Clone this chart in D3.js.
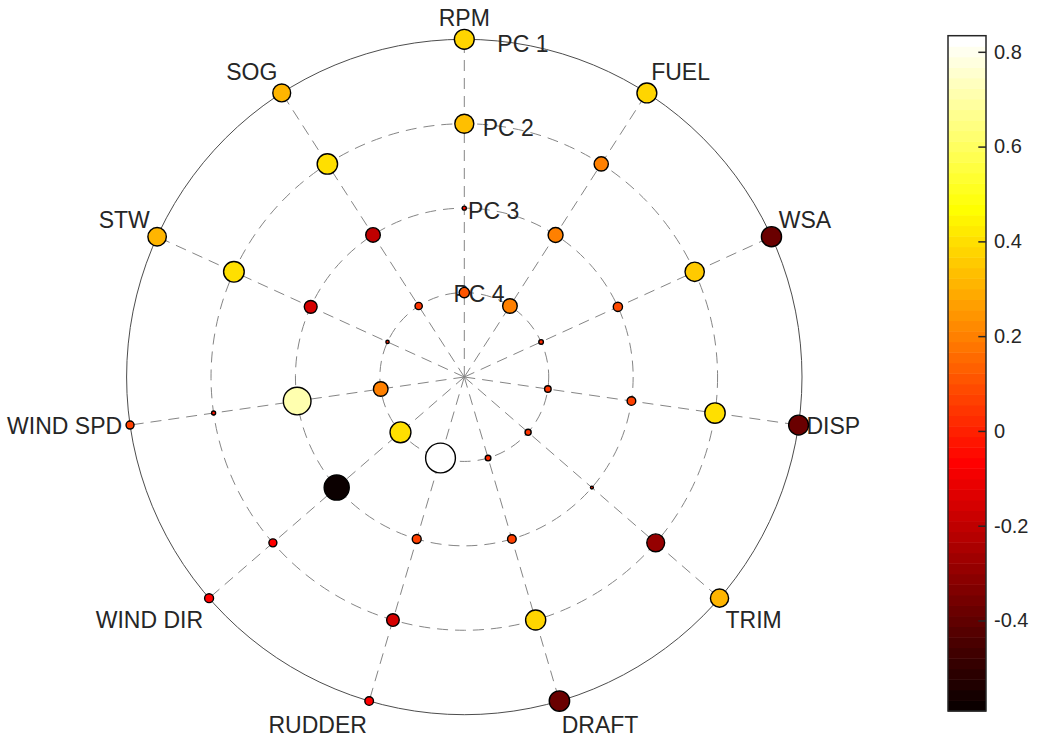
<!DOCTYPE html>
<html>
<head>
<meta charset="utf-8">
<script src="https://cdn.jsdelivr.net/npm/d3@7"></script>
<style>
  body { margin: 0; background: #fff; }
  svg { display: block; }
  text { font-family: "Liberation Sans", Arial, Helvetica, sans-serif; fill: #262626; }
</style>
</head>
<body>
<svg id="chart" width="1037" height="739"></svg>
<script>
// Variables placed clockwise around the polar plot, starting at the top
const variables = ["RPM", "FUEL", "WSA", "DISP", "TRIM", "DRAFT", "RUDDER", "WIND DIR", "WIND SPD", "STW", "SOG"];
// Principal components, outermost ring first
const components = ["PC 1", "PC 2", "PC 3", "PC 4"];

// Loadings of each variable on each component (same order as variables)
const pc1 = [0.37, 0.37, -0.38, -0.37, 0.31, -0.39, -0.07, -0.075, 0.06, 0.32, 0.30];
const pc2 = [0.34, 0.19, 0.35, 0.39, -0.30, 0.38, -0.15, -0.06, -0.015, 0.40, 0.39];
const pc3 = [-0.015, 0.21, 0.08, 0.07, -0.008, 0.07, 0.075, -0.591, 0.72, -0.155, -0.20];
const pc4 = [0.10, 0.20, 0.02, 0.04, 0.035, 0.03, 0.834, 0.41, 0.20, -0.01, 0.05];

// Colorbar tick labels
const colorTicks = [-0.4, -0.2, 0, 0.2, 0.4, 0.6, 0.8];

const loadings = [pc1, pc2, pc3, pc4];

const svg = d3.select("#chart");
const cx = 464.3, cy = 377, R = 337.7;
const fontSize = 23;

// Flatten into points
const points = [];
loadings.forEach((arr, k) => {
  arr.forEach((v, i) => points.push({ variable: variables[i], comp: k, value: v }));
});

const allValues = points.map(d => d.value);
const [cmin, cmax] = d3.extent(allValues);
const maxAbs = d3.max(allValues, v => Math.abs(v));

// Angular scale: equal spacing, clockwise from 12 o'clock
const angle = d3.scaleBand().domain(variables).range([0, 2 * Math.PI]).paddingInner(0).paddingOuter(0).align(0);
// Radial scale: PC 1 on the outer circle, PC 4 on the innermost ring
const radius = d3.scaleLinear().domain([0, components.length]).range([0, R]);
const ringRadius = k => radius(components.length - k);

// 64-level "hot" colormap: black -> red -> yellow -> white
const nColors = 64;
function hotColor(i) { // i in 1..64
  const r = Math.min(i / 24, 1);
  const g = Math.max(0, Math.min((i - 24) / 24, 1));
  const b = Math.max(0, Math.min((i - 48) / 16, 1));
  return d3.rgb(r * 255, g * 255, b * 255).toString();
}
const colorIndex = d3.scaleLinear().domain([cmin, cmax]).range([0, nColors]);
const color = v => hotColor(Math.max(1, Math.min(nColors, Math.floor(colorIndex(v)) + 1)));

// Marker area proportional to |loading|
const size = d3.scaleSqrt().domain([0, maxAbs]).range([0, 14.9]);

const polar = (a, r) => [cx + r * Math.sin(a), cy - r * Math.cos(a)];

const grid = svg.append("g");

// Inner dashed rings
grid.selectAll("circle.ring")
  .data(components.slice(1).map((c, j) => j + 1))
  .join("circle")
  .attr("class", "ring")
  .attr("cx", cx).attr("cy", cy)
  .attr("r", k => ringRadius(k))
  .attr("fill", "none")
  .attr("stroke", "#858585")
  .attr("stroke-width", 1)
  .attr("stroke-dasharray", "11,7");

// Dashed spokes
grid.selectAll("line.spoke")
  .data(variables)
  .join("line")
  .attr("class", "spoke")
  .attr("x1", cx).attr("y1", cy)
  .attr("x2", d => polar(angle(d), R)[0])
  .attr("y2", d => polar(angle(d), R)[1])
  .attr("stroke", "#858585")
  .attr("stroke-width", 1)
  .attr("stroke-dasharray", "11,7");

// Solid outer circle
grid.append("circle")
  .attr("cx", cx).attr("cy", cy)
  .attr("r", ringRadius(0))
  .attr("fill", "none")
  .attr("stroke", "#4d4d4d")
  .attr("stroke-width", 1);

// Component labels along a 10° ray
const pcAngle = 10 * Math.PI / 180;
svg.append("g").selectAll("text")
  .data(components)
  .join("text")
  .attr("x", (d, k) => polar(pcAngle, ringRadius(k))[0])
  .attr("y", (d, k) => polar(pcAngle, ringRadius(k))[1])
  .attr("dy", "0.35em")
  .attr("text-anchor", "middle")
  .style("font-size", fontSize + "px")
  .text(d => d);

// Variable labels outside the outer circle
svg.append("g").selectAll("text")
  .data(variables)
  .join("text")
  .each(function (d) {
    const a = angle(d);
    const [x, y] = polar(a, R + 8);
    const s = Math.sin(a), c = Math.cos(a);
    const anchor = Math.abs(s) < 0.1 ? "middle" : (s > 0 ? "start" : "end");
    const dy = c > 0.2 ? "-0.25em" : (c < -0.2 ? "1.06em" : "0.35em");
    d3.select(this)
      .attr("x", x).attr("y", y)
      .attr("dy", dy)
      .attr("text-anchor", anchor);
  })
  .style("font-size", fontSize + "px")
  .text(d => d);

// Loading markers
svg.append("g").selectAll("circle")
  .data(points)
  .join("circle")
  .attr("cx", d => polar(angle(d.variable), ringRadius(d.comp))[0])
  .attr("cy", d => polar(angle(d.variable), ringRadius(d.comp))[1])
  .attr("r", d => size(Math.abs(d.value)))
  .attr("fill", d => color(d.value))
  .attr("stroke", "#000")
  .attr("stroke-width", 1.4);

// Colorbar
const cbX = 948, cbW = 38, cbTop = 35.7, cbBottom = 711;
const cbScale = d3.scaleLinear().domain([cmin, cmax]).range([cbBottom, cbTop]);
const cb = svg.append("g");
const step = (cmax - cmin) / nColors;
cb.selectAll("rect.band")
  .data(d3.range(1, nColors + 1))
  .join("rect")
  .attr("class", "band")
  .attr("x", cbX)
  .attr("y", i => cbScale(cmin + i * step))
  .attr("width", cbW)
  .attr("height", i => cbScale(cmin + (i - 1) * step) - cbScale(cmin + i * step) + 0.5)
  .attr("fill", i => hotColor(i));

const cbAxis = d3.axisRight(cbScale)
  .tickValues(colorTicks)
  .tickSizeInner(-7.7)
  .tickSizeOuter(0)
  .tickPadding(8)
  .tickFormat(v => v === 0 ? "0" : v.toFixed(1));
const axisG = cb.append("g")
  .attr("transform", `translate(${cbX + cbW},0)`)
  .call(cbAxis);
axisG.select(".domain").remove();
axisG.selectAll(".tick line").attr("stroke", "#262626").attr("stroke-width", 1.5);
axisG.selectAll(".tick text")
  .attr("fill", "#262626")
  .style("font-family", "'Liberation Sans', Arial, Helvetica, sans-serif")
  .style("font-size", "20px");

cb.append("rect")
  .attr("x", cbX).attr("y", cbTop)
  .attr("width", cbW).attr("height", cbBottom - cbTop)
  .attr("fill", "none")
  .attr("stroke", "#262626")
  .attr("stroke-width", 1.5);
</script>
</body>
</html>
